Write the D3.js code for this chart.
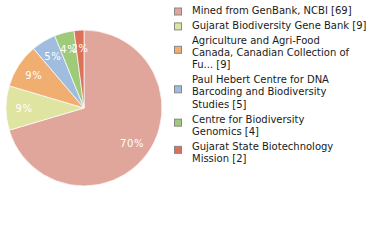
<!DOCTYPE html>
<html lang="en">
<head>
    <meta charset="UTF-8">
    <title>Pie chart</title>
    <script src="https://d3js.org/d3.v7.min.js"></script>
    <style>
        body { margin: 0; background: #fff; }
        svg { display: block; font-family: "DejaVu Sans", Verdana, sans-serif; }
        .slice-label { fill: #fff; font-size: 10px; text-anchor: middle; letter-spacing: 0.6px; }
        .legend-text { fill: #1a1a1a; font-size: 10px; }
    </style>
</head>
<body>
    <svg id="chart" width="380" height="240"></svg>
    <script>
        // Data
        const categories = [
            "Mined from GenBank, NCBI",
            "Gujarat Biodiversity Gene Bank",
            "Agriculture and Agri-Food Canada, Canadian Collection of Fu...",
            "Paul Hebert Centre for DNA Barcoding and Biodiversity Studies",
            "Centre for Biodiversity Genomics",
            "Gujarat State Biotechnology Mission"
        ];
        const counts = [69, 9, 9, 5, 4, 2];
        // legend lines as they wrap in the picture
        const legendLines = [
            ["Mined from GenBank, NCBI [69]"],
            ["Gujarat Biodiversity Gene Bank [9]"],
            ["Agriculture and Agri-Food", "Canada, Canadian Collection of", "Fu... [9]"],
            ["Paul Hebert Centre for DNA", "Barcoding and Biodiversity", "Studies [5]"],
            ["Centre for Biodiversity", "Genomics [4]"],
            ["Gujarat State Biotechnology", "Mission [2]"]
        ];
        const colors = ["#e0a59b", "#dfe4a0", "#f0ae70", "#a0bde0", "#9fca7a", "#dd7157"];

        const svg = d3.select("#chart");
        const cx = 84, cy = 108, radius = 78;

        const total = d3.sum(counts);
        const pie = d3.pie().sort(null).value(d => d)(counts);
        const arc = d3.arc().innerRadius(0).outerRadius(radius);
        const labelArc = d3.arc().innerRadius(60).outerRadius(60);

        const g = svg.append("g").attr("transform", `translate(${cx},${cy})`);

        g.selectAll("path")
            .data(pie)
            .join("path")
            .attr("d", arc)
            .attr("fill", (d, i) => colors[i])
            .attr("stroke", "#fff")
            .attr("stroke-width", 0.7);

        g.selectAll("text")
            .data(pie)
            .join("text")
            .attr("class", "slice-label")
            .attr("transform", d => `translate(${labelArc.centroid(d)})`)
            .attr("dy", "0.35em")
            .text(d => Math.round(d.data / total * 100) + "%");

        // Legend
        const lineH = 12.3, entryGap = 2.6;
        let y = 13.8;
        const legend = svg.append("g");
        legendLines.forEach((lines, i) => {
            const firstBase = y;
            const mid = firstBase + (lines.length - 1) * lineH / 2;
            const sqCenter = mid + (lines.length === 1 ? -2.3 : -6.1);
            legend.append("rect")
                .attr("x", 174.5)
                .attr("y", sqCenter - 3.5)
                .attr("width", 7)
                .attr("height", 7)
                .attr("fill", colors[i])
                .attr("stroke", "#888")
                .attr("stroke-width", 1);
            lines.forEach((t, j) => {
                legend.append("text")
                    .attr("class", "legend-text")
                    .attr("x", 192)
                    .attr("y", firstBase + j * lineH)
                    .text(t);
            });
            y += lines.length * lineH + entryGap;
        });
    </script>
</body>
</html>
